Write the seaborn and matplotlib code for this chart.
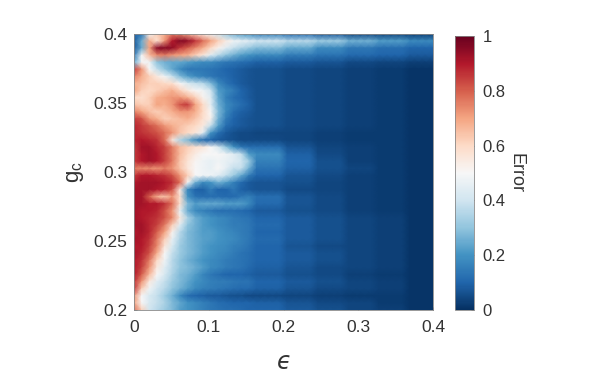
import numpy as np
import seaborn as sns
import matplotlib
matplotlib.use('Agg')
import matplotlib.pyplot as plt

sns.set_style('white')
plt.rcParams['font.family'] = ['Liberation Sans', 'DejaVu Sans']
plt.rcParams['mathtext.fontset'] = 'custom'
plt.rcParams['mathtext.rm'] = 'Liberation Sans'

# column widths in units of 0.01 of epsilon, fine near the boundary and coarse on the right
col_repeat = [1] * 16 + [4] * 6

# error in percent, rows run from g_c = 0.4 down to g_c = 0.2
error_rows = [
    [10, 14, 48, 62, 68, 75, 74, 68, 62, 55, 48, 40, 32, 26, 22, 20, 16, 12, 8, 5, 4, 3],
    [8, 25, 68, 58, 72, 90, 96, 94, 86, 78, 70, 62, 54, 48, 46, 44, 40, 36, 32, 26, 22, 18],
    [8, 25, 70, 95, 96, 94, 85, 80, 74, 68, 60, 52, 44, 38, 34, 31, 28, 24, 18, 14, 12, 10],
    [15, 48, 66, 74, 76, 72, 70, 68, 62, 56, 44, 36, 30, 26, 22, 20, 18, 15, 13, 11, 10, 8],
    [25, 50, 48, 30, 26, 24, 24, 22, 20, 18, 18, 16, 14, 13, 12, 11, 9, 8, 7, 5, 4, 3],
    [85, 72, 50, 38, 30, 24, 18, 14, 14, 14, 13, 12, 10, 9, 8, 7, 6, 5, 4, 3, 2, 1],
    [75, 68, 62, 55, 48, 38, 28, 22, 18, 16, 14, 12, 11, 9, 8, 7, 6, 5, 4, 3, 2, 1],
    [68, 65, 62, 62, 60, 58, 50, 42, 38, 36, 28, 18, 13, 10, 8, 7, 6, 5, 4, 3, 2, 1],
    [70, 62, 60, 62, 65, 68, 62, 55, 50, 48, 40, 22, 18, 15, 10, 8, 6, 5, 4, 3, 2, 1],
    [60, 58, 62, 68, 70, 72, 72, 68, 62, 52, 44, 24, 16, 12, 10, 8, 6, 5, 4, 3, 2, 1],
    [65, 62, 62, 70, 68, 72, 82, 85, 70, 60, 45, 26, 18, 15, 12, 9, 6, 5, 4, 3, 2, 1],
    [75, 70, 65, 62, 65, 68, 72, 72, 68, 60, 50, 28, 18, 12, 9, 8, 6, 5, 4, 3, 2, 1],
    [85, 82, 72, 68, 62, 64, 66, 68, 64, 58, 52, 26, 15, 10, 8, 7, 6, 5, 4, 3, 2, 1],
    [88, 85, 82, 78, 72, 68, 65, 62, 60, 55, 38, 22, 12, 9, 8, 7, 6, 5, 4, 3, 2, 1],
    [88, 86, 84, 82, 78, 72, 64, 60, 56, 45, 20, 12, 8, 6, 5, 5, 4, 4, 3, 2, 2, 1],
    [88, 90, 88, 86, 78, 55, 35, 28, 18, 12, 10, 8, 7, 6, 5, 5, 5, 4, 3, 2, 2, 1],
    [85, 92, 92, 88, 84, 76, 66, 62, 58, 56, 50, 42, 30, 20, 14, 12, 12, 7, 4, 3, 2, 1],
    [85, 90, 92, 90, 84, 76, 66, 60, 54, 50, 50, 50, 48, 44, 38, 22, 18, 9, 5, 3, 2, 1],
    [85, 90, 92, 90, 84, 76, 64, 57, 51, 48, 46, 48, 46, 44, 40, 32, 16, 10, 6, 3, 2, 1],
    [76, 74, 74, 72, 76, 72, 64, 56, 50, 48, 46, 50, 45, 38, 38, 26, 13, 9, 6, 4, 2, 1],
    [85, 90, 90, 88, 86, 82, 72, 62, 50, 48, 48, 44, 38, 32, 24, 15, 10, 7, 5, 3, 2, 1],
    [90, 92, 92, 92, 90, 87, 78, 50, 26, 18, 20, 26, 22, 16, 11, 8, 7, 6, 4, 3, 2, 1],
    [92, 92, 92, 90, 88, 82, 55, 18, 10, 9, 15, 10, 10, 14, 9, 8, 7, 5, 4, 3, 2, 1],
    [92, 92, 80, 68, 64, 72, 58, 20, 13, 12, 12, 12, 11, 11, 14, 16, 12, 7, 5, 3, 2, 1],
    [92, 92, 90, 90, 86, 78, 58, 28, 22, 24, 24, 24, 22, 22, 22, 18, 11, 7, 5, 3, 2, 1],
    [92, 90, 90, 88, 82, 72, 46, 25, 18, 16, 14, 12, 12, 12, 11, 10, 8, 6, 5, 3, 2, 1],
    [92, 90, 88, 86, 82, 74, 55, 34, 26, 22, 20, 18, 17, 15, 14, 13, 10, 8, 6, 4, 3, 1],
    [92, 92, 88, 84, 76, 62, 44, 30, 26, 22, 20, 18, 17, 15, 15, 14, 11, 8, 6, 4, 3, 1],
    [90, 92, 88, 80, 70, 52, 36, 28, 25, 22, 22, 20, 18, 17, 15, 14, 10, 8, 6, 4, 3, 1],
    [92, 90, 86, 76, 62, 46, 34, 28, 25, 23, 22, 20, 19, 18, 16, 14, 11, 8, 6, 4, 3, 1],
    [90, 90, 84, 74, 56, 42, 32, 28, 25, 22, 20, 19, 18, 16, 15, 13, 10, 7, 5, 4, 3, 1],
    [92, 88, 82, 68, 50, 38, 32, 28, 25, 22, 20, 18, 17, 15, 13, 12, 10, 8, 6, 4, 3, 1],
    [90, 86, 76, 60, 48, 36, 30, 26, 23, 20, 18, 17, 15, 14, 13, 12, 10, 8, 6, 4, 3, 1],
    [90, 84, 72, 55, 44, 36, 30, 28, 25, 22, 18, 17, 15, 14, 13, 11, 9, 7, 5, 4, 3, 1],
    [90, 80, 66, 50, 42, 34, 28, 26, 22, 17, 14, 12, 10, 10, 10, 9, 8, 6, 5, 3, 2, 1],
    [86, 72, 55, 44, 38, 32, 28, 24, 20, 18, 16, 15, 15, 14, 13, 13, 10, 8, 6, 4, 3, 1],
    [85, 62, 48, 40, 36, 30, 26, 22, 18, 16, 15, 14, 13, 12, 11, 11, 9, 7, 5, 4, 3, 1],
    [72, 50, 42, 38, 32, 26, 18, 12, 10, 9, 8, 8, 7, 6, 6, 5, 5, 4, 3, 2, 2, 1],
    [70, 50, 42, 38, 34, 28, 24, 20, 18, 16, 14, 12, 11, 10, 10, 10, 9, 7, 5, 4, 2, 1],
    [78, 62, 40, 36, 32, 28, 22, 20, 18, 16, 14, 13, 12, 12, 11, 10, 10, 8, 6, 4, 3, 1],
]

eps_ticks = [0, 0.1, 0.2, 0.3, 0.4]
eps_labels = ['0', '0.1', '0.2', '0.3', '0.4']
gc_ticks = [0.2, 0.25, 0.3, 0.35, 0.4]
gc_labels = ['0.2', '0.25', '0.3', '0.35', '0.4']
cbar_ticks = [0, 0.2, 0.4, 0.6, 0.8, 1]
cbar_labels = ['0', '0.2', '0.4', '0.6', '0.8', '1']

err = np.repeat(np.array(error_rows) / 100, col_repeat, axis=1)
n_rows, n_cols = err.shape

text_col = '#333333'
fig = plt.figure(figsize=(5.96, 3.75), dpi=100)
ax = fig.add_axes([134 / 596, 65 / 375, 299 / 596, 276 / 375])
cax = fig.add_axes([455 / 596, 65 / 375, 19 / 596, 274 / 375])

sns.heatmap(err, ax=ax, cbar_ax=cax, cmap='RdBu_r', vmin=0, vmax=1,
            xticklabels=False, yticklabels=False, shading='gouraud')

# gouraud puts the nodes on whole indices, so the mesh spans 0..n-1
ax.set_xlim(0, n_cols - 1)
ax.set_ylim(n_rows - 1, 0)
ax.set_xticks([e / 0.4 * (n_cols - 1) for e in eps_ticks], eps_labels)
ax.set_yticks([(0.4 - g) / 0.2 * (n_rows - 1) for g in gc_ticks], gc_labels)
ax.tick_params(axis='both', direction='in', length=2, width=0.5, color='#555555',
               labelsize=12.5, labelcolor=text_col, bottom=True, left=True)
ax.tick_params(axis='x', pad=7)
ax.tick_params(axis='y', pad=5)
ax.set_xlabel('\u03f5', fontsize=17, family='DejaVu Sans', style='italic', color=text_col, labelpad=11)
ax.set_ylabel(r'g$_{\mathrm{c}}$', fontsize=16, color=text_col, labelpad=5)
for s in ax.spines.values():
    s.set_visible(True)
    s.set_color('#888888')
    s.set_linewidth(0.6)

cb = ax.collections[0].colorbar
cb.set_ticks(cbar_ticks, labels=cbar_labels)
cb.ax.tick_params(direction='in', length=2, width=0.5, color='#555555',
                  labelsize=12, labelcolor=text_col, pad=6, right=True)
cb.outline.set_visible(True)
cb.outline.set_edgecolor('#888888')
cb.outline.set_linewidth(0.6)
cb.set_label('Error', rotation=270, fontsize=13, color=text_col, labelpad=14)

fig.savefig('out.png', dpi=100)
plt.close()
